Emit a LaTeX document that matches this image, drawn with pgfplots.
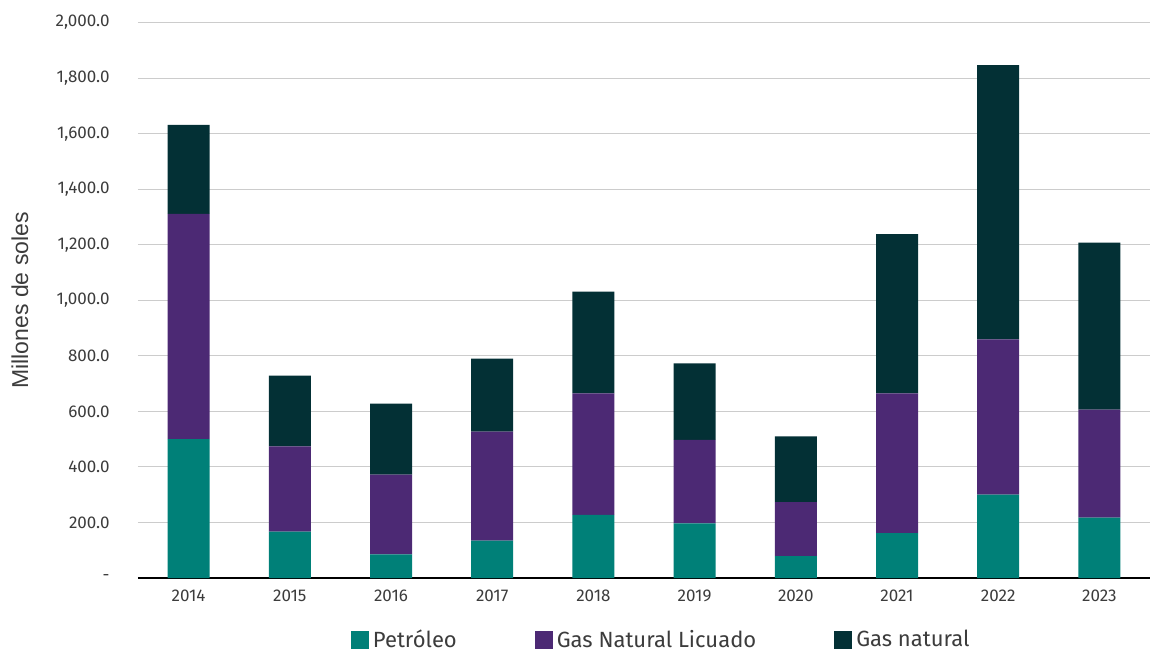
\documentclass[border=0pt]{standalone}
\usepackage{pgfplots}
\pgfplotsset{compat=1.18}
\usepackage{fontspec}
\setmainfont{Fira Sans}
\newfontfamily\labfont{Liberation Sans}
\definecolor{cPet}{RGB}{0,128,120}
\definecolor{cGNL}{RGB}{76,41,116}
\definecolor{cGN}{RGB}{3,48,53}
\definecolor{cTxt}{RGB}{60,60,60}
\pgfplotsset{sq/.style={legend image code/.code={\fill[##1] (0pt,-4.5pt) rectangle (9pt,4.5pt);}}}
\begin{document}
\begin{tikzpicture}
\path[use as bounding box] (-69pt,-37.5pt) rectangle (509.5pt,289pt);
\begin{axis}[
  at={(0,0)}, anchor=south west,
  scale only axis, width=506pt, height=277.7pt,
  ybar stacked, bar width=21pt,
  xmin=-0.5, xmax=9.5, ymin=0, ymax=2000,
  xtick={0,...,9},
  xticklabels={2014,2015,2016,2017,2018,2019,2020,2021,2022,2023},
  ytick={0,200,...,2000},
  yticklabels={-\hspace{8pt},200.0,400.0,600.0,800.0,{1,000.0},{1,200.0},{1,400.0},{1,600.0},{1,800.0},{2,000.0}},
  major tick length=0pt,
  ymajorgrids, major grid style={color=black!20, line width=0.5pt},
  axis x line=bottom, axis y line=left,
  y axis line style={draw=none},
  x axis line style={-, line width=1.2pt, black},
  tick label style={font=\fontsize{8.5}{10}\selectfont, text=cTxt},
  yticklabel style={anchor=east, inner sep=0pt, xshift=-14pt},
  xticklabel style={anchor=north, inner sep=0pt, yshift=-6pt},
  ylabel={Millones de soles},
  ylabel style={at={(axis description cs:-0.1166,0.5)}, anchor=center, font=\labfont\fontsize{11.5}{13}\selectfont, text=cTxt},
  legend columns=3,
  legend style={at={(0.518,-0.112)}, anchor=center, draw=none, font=\fontsize{11}{13}\selectfont, text=cTxt,
    /tikz/every even column/.append style={column sep=37pt}},
]
\addplot[fill=cPet, draw=none, sq] coordinates {(0,500) (1,167) (2,85) (3,135) (4,227) (5,197) (6,79) (7,162) (8,300) (9,217)};
\addplot[fill=cGNL, draw=none, sq] coordinates {(0,811) (1,307) (2,287) (3,392) (4,438) (5,300) (6,194) (7,503) (8,559) (9,389)};
\addplot[fill=cGN, draw=none, sq] coordinates {(0,321) (1,255) (2,256) (3,263) (4,366) (5,276) (6,237) (7,573) (8,988) (9,602)};
\legend{Petróleo, Gas Natural Licuado, Gas natural}
\end{axis}
\end{tikzpicture}
\end{document}
